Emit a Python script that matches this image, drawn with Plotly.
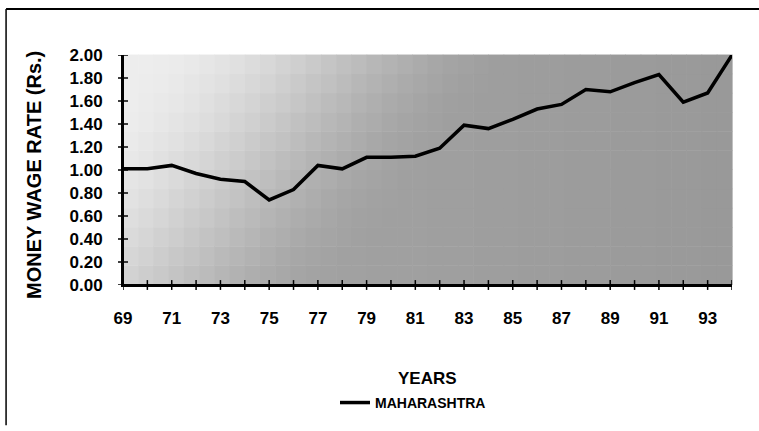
import plotly.graph_objects as go

years = list(range(69, 95))
wage = [1.01, 1.01, 1.04, 0.97, 0.92, 0.90, 0.74, 0.83, 1.04, 1.01, 1.11, 1.11, 1.12,
        1.19, 1.39, 1.36, 1.44, 1.53, 1.57, 1.70, 1.68, 1.76, 1.83, 1.59, 1.67, 2.00]
series_name = "MAHARASHTRA"
x_ticktext = [f"<b>{y}</b>" if y % 2 == 1 else "" for y in years]
y_tickvals = [round(0.2 * i, 2) for i in range(11)]
y_ticktext = [f"<b>{v:.2f}</b>" for v in y_tickvals]

FONT = "Liberation Sans, Arial, sans-serif"

fig = go.Figure()
fig.add_trace(go.Scatter(x=years, y=wage, mode="lines", name=f"<b>{series_name}</b>",
                         line=dict(color="black", width=3.5)))

shapes = []
# shaded (stippled) plot background approximated by a grid of gray tiles
NX, NY = 40, 12
for i in range(NX):
    for j in range(NY):
        u = (i + 0.5) / NX
        v = (j + 0.5) / NY
        s = min(max((u - 0.05 + 0.30 * (1 - v)) / 0.6, 0.0), 1.0)
        s = s * s * (3 - 2 * s)
        d = 0.07 + 0.28 * s + 0.05 * u
        g = int(round(255 * (1 - d)))
        shapes.append(dict(type="rect", xref="paper", yref="paper",
                           x0=i / NX, x1=(i + 1) / NX + 0.001, y0=j / NY, y1=(j + 1) / NY + 0.002,
                           fillcolor=f"rgb({g},{g},{g})", line=dict(width=0), layer="below"))

# axis lines and crossing tick marks (paper-referenced so they are never clipped)
axis_line = dict(color="black", width=2)
tick_line = dict(color="black", width=1.5)
shapes.append(dict(type="line", xref="paper", yref="paper", x0=0, x1=1, y0=0, y1=0,
                   line=axis_line, layer="above"))
shapes.append(dict(type="line", xref="paper", yref="paper", x0=0, x1=0, y0=0, y1=1,
                   line=axis_line, layer="above"))
for yr in years:
    shapes.append(dict(type="line", xref="x", yref="paper", x0=yr, x1=yr,
                       y0=-0.0214, y1=0.0214, line=tick_line, layer="above"))
for tv in y_tickvals:
    shapes.append(dict(type="line", xref="paper", yref="y", x0=-0.0082, x1=0.0082,
                       y0=tv, y1=tv, line=tick_line, layer="above"))

# page frame (left and top)
shapes.append(dict(type="line", xref="paper", yref="paper", x0=-0.192, x1=-0.192, y0=-0.61,
                   y1=1.2, line=dict(color="black", width=1.5)))
shapes.append(dict(type="line", xref="paper", yref="paper", x0=-0.192, x1=1.05, y0=1.2, y1=1.2,
                   line=dict(color="black", width=2)))

axis_font = dict(family=FONT, size=17, color="black")
fig.update_layout(
    width=759, height=431,
    margin=dict(l=123, r=27, t=55, b=142),
    paper_bgcolor="white", plot_bgcolor="rgba(0,0,0,0)",
    font=dict(family=FONT, color="black"),
    shapes=shapes,
    # axes carry the labels; invisible ticks push labels away from the axis
    xaxis=dict(range=[69, 94], tickvals=years, ticktext=x_ticktext, ticks="outside",
               ticklen=17, tickcolor="rgba(0,0,0,0)", tickfont=axis_font, showline=True,
               linecolor="black", linewidth=2, showgrid=False, zeroline=False),
    yaxis=dict(range=[0, 2.0], tickvals=y_tickvals, ticktext=y_ticktext, ticks="outside",
               ticklen=15, tickcolor="rgba(0,0,0,0)", tickfont=axis_font, showline=True,
               linecolor="black", linewidth=2, showgrid=False, zeroline=False),
    showlegend=True,
    legend=dict(orientation="h", x=(335 - 123) / 609, y=(289 - 409) / 234, xanchor="left",
                yanchor="middle", font=dict(family=FONT, size=14, color="black"),
                bgcolor="rgba(0,0,0,0)"),
    annotations=[
        dict(text="<b>YEARS</b>", xref="paper", yref="paper", x=(427 - 123) / 609,
             y=(289 - 384) / 234, showarrow=False, xanchor="center", yanchor="middle",
             font=dict(family=FONT, size=17, color="black")),
        dict(text="<b>MONEY WAGE RATE (Rs.)</b>", xref="paper", yref="paper",
             x=(34 - 123) / 609, y=(289 - 177) / 234, showarrow=False, textangle=-90,
             xanchor="center", yanchor="middle",
             font=dict(family=FONT, size=20, color="black")),
    ],
)
fig.write_html("out.html", config={"displayModeBar": False})

# remove the browser's default 8px body margin so the figure sits at the window origin
with open("out.html", encoding="utf-8") as f:
    html = f.read()
html = html.replace("<body>", '<body style="margin:0;overflow:hidden;">', 1)
with open("out.html", "w", encoding="utf-8") as f:
    f.write(html)
